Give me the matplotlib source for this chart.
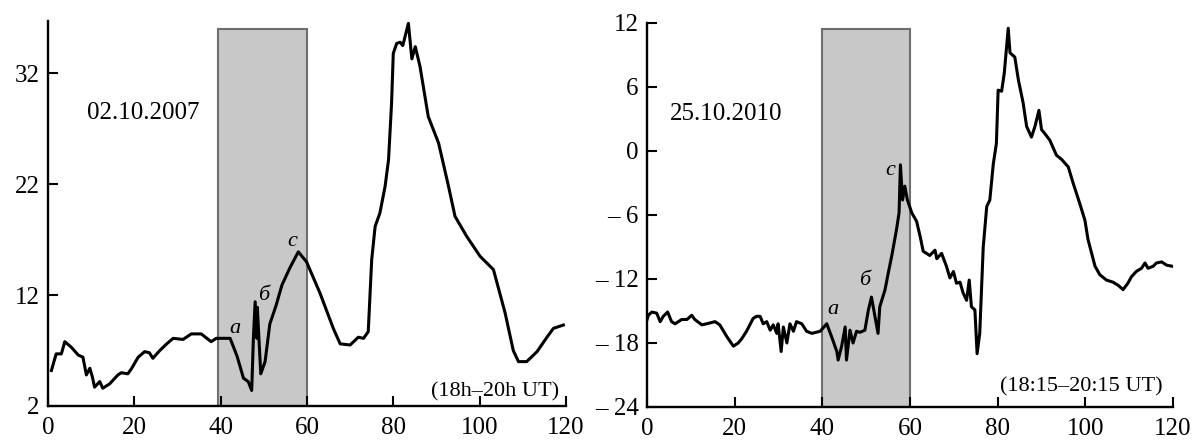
import matplotlib
matplotlib.use("Agg")
import matplotlib.pyplot as plt
from matplotlib.patches import Rectangle

plt.rcParams['font.family'] = ['Liberation Serif', 'DejaVu Serif']

# left panel, 02.10.2007
t1 = [0.8, 1.9, 3.1, 3.9, 5.4, 7.0, 8.1, 8.9, 9.7, 10.3, 10.8, 12.0, 12.7, 14.3, 16.2, 17.0, 18.5,
      19.4, 20.9, 22.4, 23.5, 24.3, 25.9, 27.5, 29.0, 31.3, 33.2, 35.5, 36.5, 37.8, 39.0, 42.2,
      43.8, 45.3, 46.4, 47.2, 47.6, 48.0, 48.4, 48.5, 49.3, 50.3, 51.4, 52.8, 54.2, 56.1, 58.0,
      59.9, 63.0, 66.1, 67.7, 70.0, 71.9, 73.1, 74.2, 75.0, 75.8, 76.9, 78.1, 78.9, 79.6, 80.0,
      80.8, 81.6, 82.2, 83.5, 84.3, 85.1, 86.2, 88.1, 90.5, 92.8, 94.3, 97.0, 100.1, 103.2,
      105.9, 107.8, 109.0, 110.9, 113.3, 115.6, 117.1, 119.4]
v1 = [5.2, 6.7, 6.7, 7.8, 7.3, 6.6, 6.4, 4.8, 5.4, 4.6, 3.7, 4.2, 3.6, 4.0, 4.8, 5.0, 4.9,
      5.4, 6.4, 6.9, 6.8, 6.3, 7.0, 7.6, 8.1, 8.0, 8.5, 8.5, 8.2, 7.8, 8.1, 8.1,
      6.5, 4.5, 4.2, 3.4, 8.2, 11.4, 8.1, 10.9, 4.9, 6.0, 9.4, 11.0, 12.9, 14.5, 15.9,
      15.0, 12.2, 9.0, 7.6, 7.5, 8.2, 8.1, 8.7, 15.2, 18.2, 19.4, 21.8, 24.2, 29.3, 33.8,
      34.7, 34.8, 34.5, 36.5, 33.3, 34.4, 32.6, 28.1, 25.7, 21.8, 19.1, 17.3, 15.5, 14.3,
      10.4, 7.0, 6.0, 6.0, 6.9, 8.2, 9.0, 9.3]

# right panel, 25.10.2010
t2 = [0.0, 0.3, 1.1, 2.2, 3.0, 3.7, 4.7, 5.6, 6.4, 7.9, 9.1, 10.2, 10.9, 12.5, 13.6, 15.5, 16.6,
      18.2, 19.7, 20.8, 21.6, 22.7, 24.2, 25.0, 25.8, 26.5, 27.3, 28.1, 28.8, 29.6, 29.9, 30.6,
      31.1, 31.9, 32.6, 33.4, 34.1, 35.3, 36.4, 37.6, 39.5, 41.0, 42.1, 43.3, 43.6, 44.4, 45.2,
      45.5, 46.3, 47.0, 47.8, 48.6, 49.7, 50.5, 51.2, 52.0, 52.7, 53.1, 54.3, 55.0, 55.8, 56.9,
      57.5, 57.8, 58.3, 58.8, 59.4, 60.4, 61.5, 62.3, 63.0, 64.5, 65.7, 66.1, 67.2, 68.3, 69.1,
      69.9, 70.6, 71.4, 72.1, 72.9, 73.5, 74.0, 74.8, 75.3, 75.9, 76.7, 77.5, 78.2, 79.0, 79.7,
      80.1, 80.9, 81.5, 82.4, 82.8, 83.9, 84.7, 85.8, 86.6, 87.7, 88.5, 89.4, 90.0, 90.8, 91.9,
      93.4, 94.6, 96.1, 97.2, 98.7, 99.9, 100.6, 102.2, 103.3, 104.8, 106.3, 107.5, 108.6,
      109.7, 110.5, 111.6, 112.8, 113.6, 114.3, 115.5, 116.2, 117.4, 118.5, 119.7]
v2 = [-15.8, -15.4, -15.1, -15.2, -16.0, -15.5, -15.1, -16.0, -16.2, -15.8, -15.8, -15.4, -15.8,
      -16.3, -16.2, -16.0, -16.3, -17.4, -18.3, -18.0, -17.6, -16.9, -15.7, -15.5, -15.5, -16.2,
      -16.0, -16.8, -16.3, -17.1, -16.2, -18.8, -16.5, -18.0, -16.2, -16.9, -16.0, -16.2, -16.9,
      -17.1, -16.9, -16.2, -17.4, -18.8, -19.6, -18.3, -16.5, -19.6, -16.8, -18.0, -16.9, -17.0,
      -16.8, -14.9, -13.7, -15.5, -17.1, -14.6, -13.0, -11.5, -9.9, -7.4, -5.8, -1.3, -4.6, -3.3,
      -4.6, -5.8, -6.6, -8.0, -9.4, -9.8, -9.3, -10.1, -9.6, -10.8, -11.9, -11.3, -12.4, -12.3,
      -13.3, -14.0, -12.1, -14.6, -14.9, -19.0, -17.1, -9.0, -5.2, -4.6, -1.2, 0.7, 5.7, 5.6, 7.3,
      11.5, 9.2, 8.8, 6.7, 4.5, 2.3, 1.3, 2.3, 3.8, 2.0, 1.6, 1.0, -0.4, -0.8, -1.5, -3.0, -4.9,
      -6.5, -8.3, -10.8, -11.6, -12.1, -12.3, -12.6, -13.0, -12.4, -11.8, -11.3, -11.0, -10.5,
      -11.0, -10.8, -10.5, -10.4, -10.7, -10.8]

xticks = [0, 20, 40, 60, 80, 100, 120]
yticks1 = [2, 12, 22, 32]
yticks2 = [-24, -18, -12, -6, 0, 6, 12]
ylabels2 = ['– 24', '– 18', '– 12', '– 6', '0', '6', '12']

fig = plt.figure(figsize=(11.96, 4.41), dpi=100)
ax1 = fig.add_axes([0.0401, 0.0794, 0.4331, 0.8726])
ax2 = fig.add_axes([0.541, 0.0771, 0.4398, 0.8709])

def style(ax, yt, ylim):
    ax.set_xlim(0, 120)
    ax.set_ylim(*ylim)
    ax.set_xticks(xticks)
    ax.set_yticks(yt)
    for s in ['top', 'right']:
        ax.spines[s].set_visible(False)
    for s in ['left', 'bottom']:
        ax.spines[s].set_linewidth(1.7)
    ax.tick_params(direction='in', length=7, width=1.5, labelsize=18)
    ax.tick_params(axis='x', pad=8)
    ax.tick_params(axis='y', pad=6)

style(ax1, yticks1, (2, 36.7))
ax1.add_patch(Rectangle((39.5, 2), 20.5, 34, facecolor='#c8c8c8', edgecolor='#6e6e6e', lw=1.5, zorder=1))
ax1.plot(t1, v1, color='black', lw=2.2, zorder=3)
ax1.text(9.0, 28.4, '02.10.2007', fontsize=18, va='center', ha='left')
ax1.text(43.3, 9.0, 'a', fontsize=16, style='italic', ha='center', va='center')
ax1.text(49.9, 12.0, 'б', fontsize=16, style='italic', ha='center', va='center')
ax1.text(56.5, 16.8, 'c', fontsize=16, style='italic', ha='center', va='center')
ax1.text(118.4, 3.3, '(18h–20h UT)', fontsize=16, ha='right', va='center')

style(ax2, yticks2, (-24, 12))
ax2.set_yticklabels(ylabels2)
ax2.add_patch(Rectangle((40, -24), 20, 35.4, facecolor='#c8c8c8', edgecolor='#6e6e6e', lw=1.5, zorder=1))
ax2.plot(t2, v2, color='black', lw=2.2, zorder=3)
ax2.text(5.2, 3.5, '25.10.2010', fontsize=18, va='center', ha='left')
ax2.text(42.4, -14.9, 'a', fontsize=16, style='italic', ha='center', va='center')
ax2.text(49.7, -12.1, 'б', fontsize=16, style='italic', ha='center', va='center')
ax2.text(55.4, -1.8, 'c', fontsize=16, style='italic', ha='center', va='center')
ax2.text(117.6, -22.1, '(18:15–20:15 UT)', fontsize=16, ha='right', va='center')

fig.savefig('out.png', dpi=100)
